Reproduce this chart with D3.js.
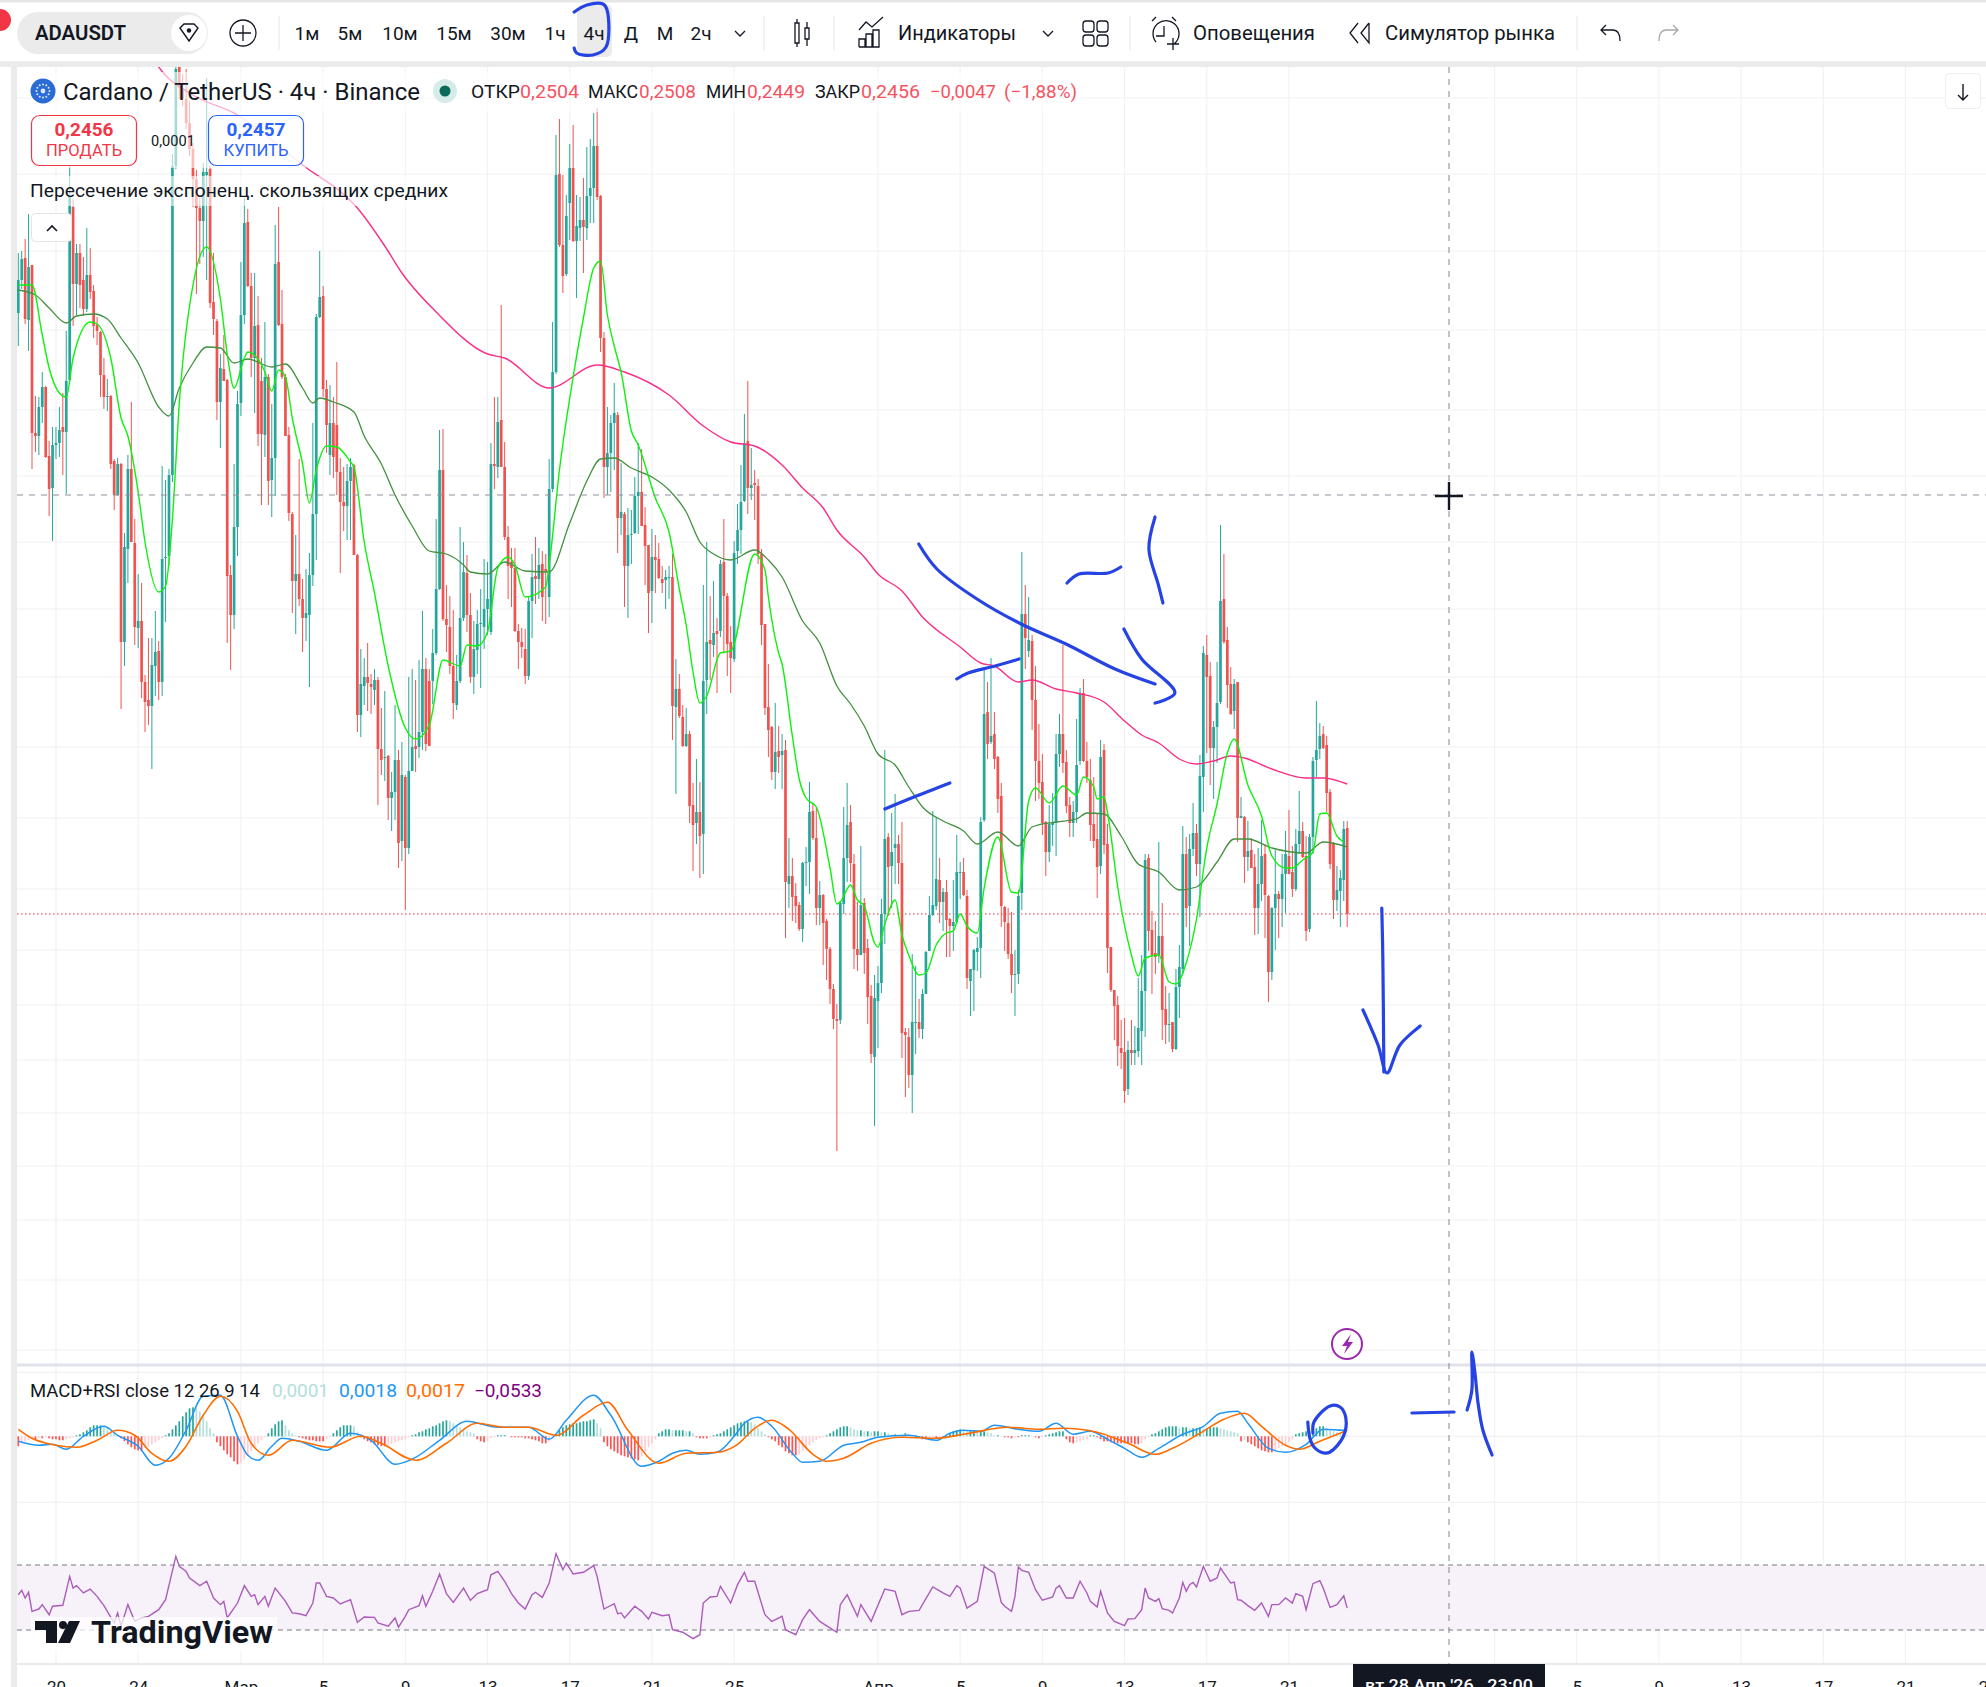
<!DOCTYPE html>
<html><head><meta charset="utf-8">
<script src="https://cdn.jsdelivr.net/npm/d3@7"></script>
<style>html,body{margin:0;padding:0;background:#fff;overflow:hidden}svg{display:block}text{font-family:Roboto,"Noto Sans",sans-serif}</style>
</head><body><svg id="c" width="1986" height="1687"></svg>
<script>
// Candles: [open, high, low, close] in points above the last close 0,2456 (1 point is about 0,0000556)
const candlesFebA=[[601,661,568,634],[634,663,625,655],[656,675,590,595],[594,700,563,647],[649,649,445,481],[481,518,462,478],[478,517,459,507],[507,542,491,527],[527,528,456,457],[458,473,398,425],[426,487,373,469],[469,487,455,471],[471,507,457,484],[487,521,439,482],[482,583,420,533],[534,748,530,719],[707,715,588,630],[630,670,599,661],[661,670,606,629],[634,657,598,605],[605,686,602,639],[639,666,615,622],[623,629,576,588],[589,597,569,583],[582,583,517,539],[539,556,505,517],[517,535,503,518],[518,519,445,450],[453,455,404,419],[419,456,418,450],[450,451,205,272],[272,381,248,367],[365,459,331,445],[445,512,372,372],[371,395,269,287],[286,340,266,293],[293,331,216,232],[232,239,182,212],[214,276,189,208],[208,276,145,249],[248,303,218,262],[263,273,214,232],[232,448,218,355],[356,434,292,357],[358,445,348,439],[439,760,432,748],[748,860,745,845],[847,860,815,826],[826,840,808,815],[815,845,785,791],[791,813,758,765],[765,771,707,735],[735,744,620,706],[706,716,650,693],[693,751,657,742],[739,836,634,742],[745,748,606,611],[612,661,579,595],[593,595,494,512],[512,560,466,546],[545,579,533,533],[534,535,271,338],[339,349,244,299],[299,450,285,387],[387,523,358,510]];
const candlesMarA=[[511,652,498,599],[599,716,590,691],[692,705,627,628],[628,641,537,556],[556,641,501,588],[589,618,468,480],[533,556,409,480],[479,592,457,537],[537,540,409,433],[434,510,397,456],[456,689,418,650],[652,707,588,589],[590,624,535,537],[537,540,478,478],[479,487,393,401],[400,402,301,333],[333,379,280,340],[340,455,308,315],[315,335,262,296],[296,345,273,301],[299,361,227,339],[339,491,328,400],[400,600,354,597],[597,663,596,617],[618,628,517,525],[525,534,461,489],[459,529,439,491],[491,517,436,457],[489,552,419,442],[442,456,341,412],[412,447,383,408],[408,450,374,433],[433,456,374,447],[449,450,359,359],[359,360,182,199],[199,265,177,230],[228,256,209,237],[237,271,203,231],[230,240,200,227],[224,245,209,234],[234,237,109,165],[165,206,139,154],[156,223,133,157],[158,159,94,116],[116,142,83,122],[122,209,94,154],[154,164,46,71],[73,172,53,139],[137,139,4,66],[66,237,60,143]];
const candlesMarB=[[143,245,143,167],[168,234,142,165],[167,254,156,182],[182,303,164,245],[245,256,163,170],[233,245,168,168],[233,285,210,261],[261,395,259,325],[325,484,324,444],[444,485,293,295],[295,329,262,289],[287,318,240,248],[248,304,195,211],[209,259,204,233],[233,387,231,296],[296,372,293,342],[341,359,282,299],[299,321,231,237],[237,293,220,265],[264,304,240,290],[290,325,226,291],[287,355,265,305],[305,352,279,315],[282,471,279,450],[450,517,425,448],[447,517,436,492],[494,609,447,447],[447,472,374,377],[377,388,315,348],[352,366,307,346],[346,366,282,283],[283,290,245,272],[272,286,256,267],[265,285,230,238],[238,317,234,313],[313,360,276,337],[338,377,310,335],[335,366,315,349],[350,363,293,317],[345,360,290,342],[317,455,297,425],[425,592,422,542],[542,779,540,739],[740,795,667,669],[669,739,621,638],[640,719,638,698],[711,770,674,746],[746,789,672,673],[673,719,616,688],[686,717,673,694],[694,736,641,687],[686,767,674,718],[718,775,691,726],[726,801,691,768],[768,806,714,717],[718,719,562,576],[576,582,416,447],[447,507,419,461],[461,499,422,491],[491,531,444,501]];
const candlesMarC=[[499,502,361,396],[396,451,379,402],[400,402,307,348],[348,406,296,379],[379,404,350,380],[381,437,380,418],[418,471,380,422],[422,465,388,388],[389,407,329,368],[369,369,281,321],[323,385,291,357],[357,379,321,354],[355,371,335,336],[335,348,321,331],[334,344,305,337],[337,348,315,337],[337,360,174,208],[207,255,120,225],[225,240,196,198],[197,209,167,168],[168,206,167,180],[180,183,91,108],[109,131,43,89],[91,155,70,102],[102,132,36,78],[80,329,40,233],[234,372,200,272],[274,318,234,270],[269,333,257,281],[283,296,221,280],[283,354,277,350],[352,395,261,318],[318,321,238,270],[272,288,221,256],[255,373,252,361],[363,410,350,384],[384,449,360,412],[413,500,412,471],[473,533,400,426],[426,466,414,429],[431,444,394,429],[428,435,350,360],[360,365,269,289],[290,290,199,206],[207,250,157,184],[187,188,134,142],[142,211,125,162],[163,188,141,157],[159,180,125,163],[164,174,-24,32],[30,76,6,38],[38,56,-7,17],[18,31,-9,8],[9,12,-17,-15],[-15,52,-28,51],[51,67,28,52],[52,132,20,102],[103,111,74,76],[76,107,-11,6],[6,33,-11,19],[19,20,-51,-9],[-7,-5,-66,-35],[-35,-33,-90,-75],[-75,-70,-115,-105],[-105,-90,-237,-107],[-106,13,-110,11],[10,107,0,56],[56,131,32,89],[92,109,32,51],[50,60,-55,-35],[-35,12,-57,-41],[-41,68,-41,9],[11,16,-60,-39]];
const candlesApr=[[-34,-25,-110,-83],[-82,-71,-149,-140],[-143,-61,-212,-84],[-87,-52,-134,-69],[-69,15,-79,0],[0,164,-30,75],[77,81,-2,47],[48,101,6,62],[66,120,30,70],[70,79,30,51],[51,92,-144,-119],[-118,-114,-183,-121],[-123,-114,-174,-161],[-161,-40,-199,-108],[-108,-52,-140,-108],[-108,-85,-124,-115],[-115,-75,-125,-80],[-80,-37,-80,-38],[-37,18,-37,-1],[-1,103,-2,9],[8,97,4,35],[34,56,-9,12],[12,26,-17,22],[22,34,-43,-6],[-5,-4,-43,-12],[-12,34,-37,-8],[-8,79,-10,42],[41,52,15,42],[42,56,18,19],[18,24,-75,-64],[-67,-55,-102,-55],[-56,-35,-97,-36],[-38,-23,-57,-34],[-34,97,-64,92],[94,244,92,200],[202,232,155,170],[172,256,170,178],[180,202,145,155],[157,158,101,115],[118,131,-13,8],[7,8,-37,-8],[-9,6,-45,-40],[-40,2,-79,-61],[-60,-36,-102,-60],[-60,24,-70,18],[21,362,4,300],[300,329,245,276],[263,317,257,274],[273,279,184,214],[214,248,113,153],[153,190,115,131],[132,160,79,91],[92,93,38,62],[62,109,52,90],[89,121,68,92],[91,180,58,160],[160,200,147,180],[180,269,141,151],[152,164,101,108],[109,117,77,91],[91,113,77,102],[102,195,91,149],[153,226,149,220],[221,235,152,153],[153,172,131,137],[134,155,73,89],[90,137,66,73],[75,101,16,47],[48,174,40,157],[164,170,60,69]];
const candlesAprB=[[70,90,-59,-34],[-33,-33,-78,-76],[-76,-76,-126,-92],[-91,-82,-152,-132],[-134,-106,-155,-139],[-138,-104,-189,-177],[-175,-127,-181,-136],[-136,-106,-151,-139],[-139,-112,-151,-136],[-137,-64,-143,-114],[-117,-41,-151,-77],[-77,60,-123,54],[56,60,-37,-17],[-16,3,-80,-41],[-39,-7,-60,-43],[-41,72,-49,-22],[-22,11,-126,-96],[-95,-72,-130,-111],[-111,-79,-128,-110],[-108,-108,-138,-135],[-135,-55,-136,-73],[-73,-31,-104,-53],[-55,88,-60,60],[60,77,-13,6],[8,80,-32,65],[65,111,58,81],[81,90,38,50],[50,159,-3,138],[137,268,102,261],[259,279,161,237],[238,252,129,166],[166,193,115,187],[187,252,151,211],[212,389,210,313],[315,360,270,272],[274,287,206,229],[230,247,199,200],[203,235,185,230],[232,232,72,96],[96,117,96,98],[97,98,31,57],[57,93,43,63],[64,76,46,46],[47,60,-21,6],[6,66,-20,30],[30,94,13,58],[60,70,-24,19],[18,19,-88,-58],[-58,7,-66,6],[6,64,-36,20],[20,23,-24,15],[15,60,-13,40],[40,83,1,60],[58,104,40,40],[42,68,17,25],[25,85,23,70],[70,123,60,83],[83,92,56,57],[58,78,-27,-17],[-15,80,-18,77],[77,157,60,153],[154,213,137,164],[165,191,155,178],[180,188,165,166],[169,178,102,121],[122,125,45,50],[71,72,-5,14],[14,48,3,24],[23,44,-13,36],[34,93,13,85],[86,93,-13,0]];
const candles=[...candlesFebA,...candlesMarA,...candlesMarB,...candlesMarC,...candlesApr,...candlesAprB];

// Moving averages, read at the listed candle numbers
const pinkIdx=[38,41,50,64,83,99,107,112,122,137,142,155,169,177,190,200,208,215,223,229,235,239,247,251,258,264,275,281,285,292,296,303,309,317,323,328,333,339,344,349,354,358,366,376,381,388];
const pinkVal=[864,847,821,799,749,706,668,641,602,560,556,526,549,542,519,488,472,468,449,426,406,384,357,340,323,297,267,251,248,232,234,225,221,212,193,179,171,155,150,153,158,156,145,136,136,130];
const ema50Idx=[0,5,9,14,17,22,26,30,35,41,44,47,51,55,59,63,67,74,78,83,86,88,92,98,101,106,110,115,120,125,130,132,137,142,148,155,161,166,170,174,179,185,190,195,199,203,208,215,219,223,229,234,239,243,247,251,256,260,264,270,276,280,286,292,296,303,309,312,317,322,327,333,339,344,350,355,359,366,376,381,388];
const ema50Val=[624,619,606,591,598,600,595,576,551,507,498,526,551,567,566,551,555,547,550,526,511,516,512,502,478,450,419,388,363,360,349,342,340,352,343,342,391,433,455,456,446,437,424,402,372,360,354,364,354,337,293,271,228,210,188,160,149,127,107,93,83,70,82,68,87,92,95,101,100,78,50,42,24,27,52,75,75,66,61,72,67];
const ema20Idx=[0,4,7,9,12,14,16,21,23,27,30,32,35,37,41,43,45,47,51,55,59,61,63,66,67,72,74,76,78,80,83,85,87,90,93,97,98,101,104,108,113,116,120,124,129,131,134,137,140,143,145,148,154,155,158,162,165,168,170,172,174,176,179,181,186,190,193,195,197,199,201,205,208,215,218,219,222,223,226,228,230,233,237,239,240,243,245,247,250,251,253,256,258,260,263,265,268,271,273,275,277,280,282,286,290,292,295,297,301,305,309,311,314,315,317,318,321,325,327,329,333,336,338,341,344,347,350,353,355,359,363,366,370,372,375,378,380,382,385,387];
const ema20Val=[629,629,579,546,521,517,556,592,590,556,496,478,422,372,322,328,395,510,629,667,615,560,526,556,562,542,523,544,537,496,450,411,444,468,467,452,447,372,321,248,186,175,189,254,248,269,268,282,346,357,349,317,327,349,444,537,596,646,653,599,568,542,483,469,416,382,325,289,242,211,218,261,263,360,344,317,261,250,178,135,116,107,46,10,12,29,14,8,-29,-33,-10,14,-21,-41,-61,-59,-31,-19,-17,0,-12,-19,26,77,22,21,113,126,111,128,119,137,127,115,117,102,27,-41,-62,-44,-41,-68,-70,-49,-5,66,110,161,175,129,98,58,46,46,54,62,100,101,78,72];

// MACD panel values, in points around zero (1 point is about 0,00027)
const histFeb=[-10,-7,-5,-4,-3,-3,-2,-2,-1,-2,-3,-3,-4,-4,-3,-2,-1,1,2,4,6,9,11,11,11,10,9,6,4,1,-2,-5,-8,-11,-13,-14,-15,-12,-10,-8,-6,-4,-2,1,3,7,11,15,20,24,28,29,28,25,20,15,8,3];
const histMarA=[-6,-10,-14,-18,-21,-25,-28,-27,-23,-19,-15,-11,-7,-4,-1,3,8,12,15,16,11,6,3,1,-1,-2,-3,-4,-4,-5,-5,-5,-3,-1,3,6,9,11,11,11,10,4,-1,-3,-5,-6,-8,-9,-10,-10,-9,-8,-6,-5,-4,-3,-1];
const histMarB=[1,2,4,5,7,8,10,11,13,15,16,15,13,11,9,7,5,4,3,-3,-5,-6,-5,-2,-1,1,1,1,0,-1,-1,-1,-1,-2,-2,-3,-4,-5,-7,-7,-5,-1,2,6,9,11,12,13,13,14,15,15,16,17,13,8,-6,-10,-13,-15,-17,-19,-20,-21,-22,-23,-24,-20,-16,-11,-7,-3];
const histMarC=[3,5,7,7,6,6,6,6,5,5,3,-1,-2,-2,-2,-1,1,2,3,5,7,9,11,13,14,15,15,14,12,8,5,2,-1,-3,-5,-9,-11,-15,-17,-19,-19,-18,-15,-12,-9,-6,-4,-2,-1];
const histApr=[1,3,5,7,9,10,10,9,7,6,6,5,5,4,5,5,4,4,3,2,2,1,1,3,2,1,1,-1,-3,-3,-2,-1,-2,-1,-1,1,3,5,6,7,6,5,6,6,5,5,5,4,3,1,1,0,-1,-1,-2,-1,-1,1,1,1,0,-1,-2,-1,1,2,3,4,5,5,-3,-6,-7,-6,-5,-4,-3,1,1,-1,-3,-5];
const histAprB=[-5,-6,-7,-7,-7,-7,-7,-7,-8,-8,-7,-3,-1,2,3,5,7,9,10,10,10,9,9,9,8,8,8,9,8,8,9,9,9,8,7,6,5,4,3,-5,-4,-6,-8,-10,-12,-14,-15,-16,-16,-15,-12,-10,-8,-6,-3,2,3,4,5,5,6,8,10,10,8,6,5,4,3,2,1];
const hist=[...histFeb,...histMarA,...histMarB,...histMarC,...histApr,...histAprB];
const macdIdx=[0,6,10,14,19,25,29,35,40,44,49,54,59,64,67,70,74,77,82,90,97,103,110,116,123,131,140,149,155,160,168,173,182,187,191,195,199,204,209,212,216,220,226,229,234,241,246,251,260,268,272,276,281,285,292,298,303,308,313,318,323,328,333,340,346,351,356,359,365,370,376,381,387,388];
const macdVal=[-5,-9,-8,-13,0,10,1,-10,-29,-22,6,40,41,0,-19,-24,-10,-2,-5,-14,3,-4,-28,-21,-4,15,9,9,-3,16,41,21,-30,-25,-17,-14,-18,-16,0,13,19,10,-17,-26,-25,-9,-6,-1,1,-4,3,6,5,11,7,5,13,2,5,-3,-12,-21,-12,2,10,23,25,13,-12,-16,-8,7,6,6];
const signalIdx=[0,4,11,17,23,29,34,39,44,49,54,59,64,68,73,80,91,100,106,116,125,134,142,149,157,165,172,178,187,195,204,210,215,220,225,232,236,241,249,258,268,276,289,298,305,315,324,332,337,345,352,358,363,370,374,380,388];
const signalVal=[7,-2,-9,-11,-4,6,1,-17,-25,-10,21,40,25,-7,-19,-4,-11,0,-7,-24,-7,13,9,9,1,21,34,6,-27,-17,-16,-8,8,16,7,-18,-25,-22,-7,-1,-2,2,9,7,8,4,-7,-18,-12,3,17,23,10,-9,-13,-5,6];

// RSI, read at the listed candle numbers
const rsiIdxA=[0,1,2,3,4,6,7,9,10,13,15,16,17,19,21,23,25,28,29,30,32,34,36,38,41,43,46,47,49,50,53,55,57,59,60,61,64,66,68,69,70,72,73,75,78,80,82,84,86,87,88,90,92,94,97,99,101,104,105,108,110,111,113,114,117,118,119,121,123,125,127,130,132,134,137,138,140,142,144,146,148,150,151,153,155,157,159,160,162,165,168,169,171,174,175,176,177,180,182,184,185,188,190,191,194,197,199];
const rsiValA=[51.7,54.4,49.7,53.2,41.5,42.9,45.6,39.4,44.6,45.2,63,55.8,57.3,52.8,55.2,50.7,45,34.3,40.5,32.3,45.6,35.3,37.4,38.4,42.5,48.7,75.3,69.2,66,62,57.3,60,49.7,45.6,47.6,37.4,46.6,57.3,50.7,51.7,45.6,50.7,44.6,55.8,47.6,40.5,40,38.8,46.6,58.9,58.9,50.7,49.7,46,48.7,34.7,38,37.8,34.3,32.3,37.4,31.8,38.4,42.5,45,51.1,44.6,53.8,64.5,52.4,47,55.8,48.2,52.4,54.8,64,66.1,60,52.4,46.6,42.9,51.7,53.2,50.1,58.9,77,67.1,71.2,64.5,65.5,69.6,63,42.9,46.2,40,40.5,37.4,44.6,41.5,36.8,40.9,38.8,39.4,30.2,28.6,24.7,27.1];
const rsiIdxB=[200,202,204,205,208,210,212,213,215,218,220,223,224,227,229,231,234,239,240,242,245,246,249,253,256,258,260,263,267,270,272,274,275,277,280,282,285,287,288,290,291,292,293,295,297,299,302,303,304,306,308,310,312,313,315,316,318,320,323,324,326,328,329,330,332,333,334,336,337,339,340,341,342,343,344,346,348,350,351,354,355,356,357,359,361,363,365,366,368,370,372,373,375,376,378,380,381,383,385,387,388];
const rsiValB=[46.6,50.3,50.7,56.9,46.6,57.9,65.5,60,60,39.4,35.3,38.4,30.2,27.1,36.4,42.5,35.3,28.6,45.6,51.7,38.4,45.6,35.3,55.2,53.8,39.4,41.5,42.1,56.5,52.8,50.7,57.3,55.8,43.5,47.6,69.2,65,47,44.6,41.5,50.7,68.8,66.7,65.5,54.8,48.3,50.3,55.8,57.3,49.7,49.7,60,52.8,47.6,44.2,53.8,40.5,35.3,32.7,36.8,37,42.5,55.8,49.7,47.6,49.3,43.1,42.1,40.5,49.7,59.3,53.8,57.9,59.3,56.5,69.2,60,62,68.1,58.9,59.5,48.7,48.3,45,42.1,46.6,38.4,45.6,45.6,49.7,46.6,52.4,50.7,42.5,58.5,60.4,55.8,43.9,45.6,51.1,43.5];

// Date axis
const tickIdx=[11,35,65,89,113,137,161,185,209,251,275,299,323,347,371,455,479,503,527,551,575];
const tickLabels=["20","24","Мар","5","9","13","17","21","25","Апр","5","9","13","17","21","5","9","13","17","21","25"];
// Price grid levels, in the same points as the candles
const gridLevels=[816,740,663,584,504,438,372,305,237,167,96,25,-36,-91,-146,-199,-252,-306,-366,-436];

// Hand-drawn annotations as [candle number, points]
const strokeFrame=[[162.3,902],[166,909],[170.7,910],[171.9,904],[171.6,867],[167.8,859],[163,861],[162.3,866]];
const strokeLong=[[262.9,370],[268.2,345],[279.9,315],[292.8,290],[305.9,270],[320.2,245],[331.9,230]];
const strokeHead=[[322.8,285],[328,255],[337.7,221],[331.9,211]];
const strokeMid=[[274,235],[277.3,241],[285.2,248],[292.2,255]];
const strokeLow=[[253,105],[261.5,117],[272,131]];
const strokeDash=[[306.2,331],[309.7,340],[318.2,341],[321.9,347]];
const strokeBar=[[331.9,397],[330.1,365],[332.8,330],[334.2,311]];
const strokeDown=[[398.1,6],[398.4,-43],[398.7,-158]];
const strokeDownHead=[[392.6,-96],[397,-131],[399.6,-159],[403.4,-131],[409.3,-112]];
const strokeCircle=[[376.5,-508],[377.1,-524],[378.3,-533],[381.2,-539],[383,-538],[386.8,-523],[387.6,-504],[385.9,-493],[383,-492],[378.3,-508],[378,-519]];
const strokeMinus=[[406.9,-499],[419.2,-498]];
const strokeOne=[[423,-496],[424.4,-476],[424.4,-438],[425.3,-459],[426.2,-489],[427.6,-516],[430.3,-541]];
const annotations=[strokeFrame,strokeLong,strokeHead,strokeMid,strokeLow,strokeDash,strokeBar,strokeDown,strokeDownHead,strokeCircle,strokeMinus,strokeOne];

const svg=d3.select("#c");
const W=1986,H=1687,PL=17,PT=67,PB=1365,AX=1664;
const x=d3.scaleLinear().domain([0,388]).range([18.3,18.3+388*3.425]);
const y=d3.scaleLinear().domain([0,914]).range([914,0]);
const ym=d3.scaleLinear().domain([-100,100]).range([1536.3,1336.3]);
const yr=d3.scaleLinear().domain([30,70]).range([1630,1565]);
const UP="#26a69a",DN="#ef5350";

// frame
svg.append("rect").attr("width",W).attr("height",H).attr("fill","#fff");
svg.append("rect").attr("x",0).attr("y",0).attr("width",W).attr("height",2.5).attr("fill","#e6e6e6");
svg.append("rect").attr("x",0).attr("y",61).attr("width",W).attr("height",6).attr("fill","#ebebeb");
svg.append("rect").attr("x",11).attr("y",61).attr("width",6).attr("height",H-61).attr("fill","#ebebeb");

// grid
const gridG=svg.append("g").attr("stroke","#f1f2f5").attr("stroke-width",1.2);
gridG.selectAll("line.h").data(gridLevels).join("line").attr("x1",PL).attr("x2",W).attr("y1",d=>y(d)).attr("y2",d=>y(d));
const allTicks=[...tickIdx,431];
gridG.selectAll("line.v").data(allTicks).join("line").attr("x1",d=>x(d)).attr("x2",d=>x(d)).attr("y1",PT).attr("y2",AX);
[64,0,-66].forEach(v=>{ gridG.append("line").attr("x1",PL).attr("x2",W).attr("y1",ym(v)).attr("y2",ym(v)); });

// main panel
svg.append("defs").append("clipPath").attr("id","mainClip").append("rect").attr("x",PL).attr("y",PT).attr("width",W-PL).attr("height",PB-PT);
const main=svg.append("g").attr("clip-path","url(#mainClip)");
main.append("line").attr("x1",PL).attr("x2",W).attr("y1",y(0)).attr("y2",y(0)).attr("stroke","#f23645").attr("stroke-width",1.2).attr("stroke-dasharray","1.5 2.5");
const colr=d=>d[3]>=d[0]?UP:DN;
main.append("g").selectAll("line").data(candles).join("line")
  .attr("x1",(d,i)=>x(i)).attr("x2",(d,i)=>x(i)).attr("y1",d=>y(d[1])).attr("y2",d=>y(d[2]))
  .attr("stroke",colr).attr("stroke-width",1);
main.append("g").selectAll("rect").data(candles).join("rect")
  .attr("x",(d,i)=>x(i)-1.35).attr("width",2.7)
  .attr("y",d=>y(Math.max(d[0],d[3]))).attr("height",d=>Math.max(1,Math.abs(y(d[0])-y(d[3]))))
  .attr("fill",colr);
const lineOf=(idx,val,sy,curve)=>d3.line().curve(curve||d3.curveLinear).x((d,i)=>x(idx[i])).y((d,i)=>sy(val[i]))(val);
main.append("path").attr("d",lineOf(pinkIdx,pinkVal,y,d3.curveMonotoneX)).attr("fill","none").attr("stroke","#fa2e88").attr("stroke-width",1.4);
main.append("path").attr("d",lineOf(ema50Idx,ema50Val,y,d3.curveMonotoneX)).attr("fill","none").attr("stroke","#43903f").attr("stroke-width",1.3);
main.append("path").attr("d",lineOf(ema20Idx,ema20Val,y,d3.curveMonotoneX)).attr("fill","none").attr("stroke","#0df20d").attr("stroke-width",1.4);

// separators and oscillator panel
svg.append("rect").attr("x",PL).attr("y",PB-1.5).attr("width",W-PL).attr("height",3).attr("fill","#e0e3eb");
const histColor=(d,i)=>{const p=i?hist[i-1]:d;return d>=0?(d>=p?UP:"#b2dfdb"):(d<=p?"#ff5252":"#ffcdd2");};
svg.append("g").selectAll("rect").data(hist).join("rect")
  .attr("x",(d,i)=>x(i)-.85).attr("width",1.7)
  .attr("y",d=>ym(Math.max(d,0))).attr("height",d=>Math.abs(ym(d)-ym(0)))
  .attr("fill",histColor);
svg.append("path").attr("d",lineOf(macdIdx,macdVal,ym,d3.curveMonotoneX)).attr("fill","none").attr("stroke","#2196f3").attr("stroke-width",1.5);
svg.append("path").attr("d",lineOf(signalIdx,signalVal,ym,d3.curveMonotoneX)).attr("fill","none").attr("stroke","#ff6d00").attr("stroke-width",1.6);

svg.append("rect").attr("x",PL).attr("y",yr(70)).attr("width",W-PL).attr("height",yr(30)-yr(70)).attr("fill","#f7f1f9");
[70,30].forEach(v=>svg.append("line").attr("x1",PL).attr("x2",W).attr("y1",yr(v)).attr("y2",yr(v)).attr("stroke","#787b86").attr("stroke-width",1.2).attr("stroke-dasharray","5 4"));
svg.append("path").attr("d",lineOf([...rsiIdxA,...rsiIdxB],[...rsiValA,...rsiValB],yr)).attr("fill","none").attr("stroke","#ab5cba").attr("stroke-width",1.4);

// bottom axis
svg.append("line").attr("x1",PL).attr("x2",W).attr("y1",AX).attr("y2",AX).attr("stroke","#e0e3eb").attr("stroke-width",1.6);
const axis=d3.axisBottom(x).tickValues(tickIdx).tickSize(0).tickPadding(0).tickFormat((d,i)=>tickLabels[i]);
const axG=svg.append("g").attr("transform",`translate(0,${AX+12})`).call(axis);
axG.select(".domain").remove();
axG.selectAll("text").attr("font-size",17).attr("fill","#131722").attr("font-family","Roboto").attr("dy","1em");

// crosshair
svg.append("line").attr("x1",1449).attr("x2",1449).attr("y1",PT).attr("y2",AX).attr("stroke","#8f929b").attr("stroke-width",1.1).attr("stroke-dasharray","6 6");
svg.append("line").attr("x1",PL).attr("x2",W).attr("y1",495).attr("y2",495).attr("stroke","#8f929b").attr("stroke-width",1.1).attr("stroke-dasharray","6 6");
svg.append("path").attr("d","M1449 482V510M1435 496H1463").attr("stroke","#131722").attr("stroke-width",2.4).attr("fill","none");
svg.append("rect").attr("x",1353).attr("y",AX).attr("width",192).attr("height",H-AX).attr("fill","#131722");
svg.append("text").attr("x",1449).attr("y",1691).attr("text-anchor","middle").attr("font-size",16.5).attr("fill","#fff").attr("textLength",168).attr("lengthAdjust","spacingAndGlyphs").attr("font-weight",500).attr("xml:space","preserve").text("вт 28 Апр '26   23:00");

// legend veils
[[31,72,1050,40],[31,112,275,56],[31,176,420,30]].forEach(r=>svg.append("rect").attr("x",r[0]).attr("y",r[1]).attr("width",r[2]).attr("height",r[3]).attr("fill","#fff").attr("opacity",.6));

const T=(s,xx,yy,fs,fill,len,extra)=>{const t=svg.append("text").attr("x",xx).attr("y",yy).attr("font-size",fs).attr("fill",fill||"#131722").text(s);
  if(len)t.attr("textLength",len).attr("lengthAdjust","spacingAndGlyphs"); if(extra)Object.entries(extra).forEach(([k,v])=>t.attr(k,v)); return t;};

// legend line
svg.append("circle").attr("cx",43).attr("cy",91).attr("r",12.5).attr("fill","#2b6bd6");
for(let a=0;a<12;a++){svg.append("circle").attr("cx",43+6.5*Math.cos(a*Math.PI/6)).attr("cy",91+6.5*Math.sin(a*Math.PI/6)).attr("r",1).attr("fill","#dbe8ff");}
svg.append("circle").attr("cx",43).attr("cy",91).attr("r",2.4).attr("fill","#dbe8ff");
T("Cardano / TetherUS · 4ч · Binance",63,100,23,"#131722",357);
svg.append("circle").attr("cx",445).attr("cy",91).attr("r",12).attr("fill","#d6ece8");
svg.append("circle").attr("cx",445).attr("cy",91).attr("r",5.5).attr("fill","#0b6b5a");
const RED="#f7525f";
[["ОТКР",471,49,"#131722"],["0,2504",520,59,RED],["МАКС",588,50,"#131722"],["0,2508",639,57,RED],["МИН",706,40,"#131722"],["0,2449",747,58,RED],["ЗАКР",815,45,"#131722"],["0,2456",861,59,RED],["−0,0047",930,66,RED],["(−1,88%)",1004,73,RED]]
 .forEach(d=>T(d[0],d[1],98,18.5,d[3],d[2]));

// sell / buy boxes
svg.append("rect").attr("x",31.5).attr("y",115.5).attr("width",105).attr("height",50).attr("rx",8).attr("fill","#fff").attr("fill-opacity",.75).attr("stroke","#f23645").attr("stroke-width",1.2);
svg.append("rect").attr("x",208.5).attr("y",115.5).attr("width",95).attr("height",50).attr("rx",8).attr("fill","#fff").attr("fill-opacity",.75).attr("stroke","#2962ff").attr("stroke-width",1.2);
T("0,2456",84,136,18,"#f23645",59,{"text-anchor":"middle","font-weight":700});
T("ПРОДАТЬ",84,156,16,"#f23645",76,{"text-anchor":"middle"});
T("0,2457",256,136,18,"#2962ff",59,{"text-anchor":"middle","font-weight":700});
T("КУПИТЬ",256,156,16,"#2962ff",65,{"text-anchor":"middle"});
T("0,0001",151,146,14,"#131722",44);
T("Пересечение экспоненц. скользящих средних",30,197,18,"#131722",418);
svg.append("rect").attr("x",31.5).attr("y",213.5).attr("width",40).attr("height",28).attr("rx",4).attr("fill","#fff").attr("stroke","#e4e4e4");
svg.append("path").attr("d","M47 231L52 226L57 231").attr("fill","none").attr("stroke","#131722").attr("stroke-width",1.6);
svg.append("rect").attr("x",1945.5).attr("y",73.5).attr("width",35).attr("height",35).attr("rx",4).attr("fill","#fff").attr("stroke","#eeeeee");
svg.append("path").attr("d","M1963 84V100M1958 95L1963 100L1968 95").attr("fill","none").attr("stroke","#131722").attr("stroke-width",1.4);

// toolbar
svg.append("rect").attr("x",17).attr("y",12).attr("width",191).attr("height",42).attr("rx",21).attr("fill","#ebebeb");
svg.append("circle").attr("cx",189).attr("cy",33).attr("r",18).attr("fill","#fff");
svg.append("path").attr("d","M180 28L184 24H194L198 28L189 41Z").attr("fill","#fff").attr("stroke","#131722").attr("stroke-width",1.4);
svg.append("circle").attr("cx",189).attr("cy",30.5).attr("r",2.2).attr("fill","#131722");
T("ADAUSDT",35,40,20,"#131722",91,{"font-weight":600});
svg.append("circle").attr("cx",0).attr("cy",20).attr("r",11).attr("fill","#f23645");
svg.append("circle").attr("cx",243).attr("cy",33).attr("r",13).attr("fill","#fff").attr("stroke","#131722").attr("stroke-width",1.3);
svg.append("path").attr("d","M243 25V41M235 33H251").attr("stroke","#131722").attr("stroke-width",1.3);
svg.append("rect").attr("x",577).attr("y",5).attr("width",35).attr("height",52).attr("rx",5).attr("fill","#ebebeb");
[["1м",307],["5м",350],["10м",400],["15м",454],["30м",508],["1ч",555],["4ч",594],["Д",631],["М",665],["2ч",701]]
 .forEach(d=>T(d[0],d[1],40,19,"#131722",null,{"text-anchor":"middle"}));
[279,764,834,1130,1577].forEach(v=>svg.append("line").attr("x1",v).attr("x2",v).attr("y1",16).attr("y2",50).attr("stroke","#e6e6e6"));
const P=(d,c,w)=>svg.append("path").attr("d",d).attr("fill","none").attr("stroke",c||"#131722").attr("stroke-width",w||1.3);
P("M735 31L740 36L745 31");P("M1043 31L1048 36L1053 31");
P("M795 23H799V43H795ZM797 19V23M797 43V47M805 28H809V39H805ZM807 22V28M807 39V46");
P("M859 47V39H865V47M866 47V34H872V47M873 47V30H879V47H859M859 30L866 22L872 27L883 17");
T("Индикаторы",898,40,19.5,"#131722",118);
[[1083,21],[1097,21],[1083,35],[1097,35]].forEach(r=>svg.append("rect").attr("x",r[0]).attr("y",r[1]).attr("width",11).attr("height",11).attr("rx",3).attr("fill","none").attr("stroke","#131722").attr("stroke-width",1.3));
P("M1174 44A13 13 0 1 0 1156 42M1164 26V36H1156M1152 21L1156 17M1176 21L1172 17M1173 38V50M1167 44H1179");
T("Оповещения",1193,40,19.5,"#131722",122);
P("M1358 23L1350 33L1358 43M1369 23L1361 33L1369 43L1369 23");
T("Симулятор рынка",1385,40,19.5,"#131722",170);
P("M1606 25L1601 30L1606 35M1601 30H1613Q1620 30 1620 41");
P("M1673 25L1678 30L1673 35M1678 30H1666Q1659 30 1659 41","#a8a8a8");

// MACD legend
T("MACD+RSI close 12 26 9 14",30,1397,18,"#131722",230);
[["0,0001",272,57,"#b2dfdb"],["0,0018",339,58,"#2196f3"],["0,0017",406,59,"#ff6d00"],["−0,0533",474,68,"#800080"]].forEach(d=>T(d[0],d[1],1397,18,d[3],d[2]));

// lightning badge
svg.append("ellipse").attr("cx",1347).attr("cy",1344).attr("rx",15).attr("ry",15).attr("fill","#fff").attr("stroke","#9c27b0").attr("stroke-width",2);
svg.append("path").attr("d","M1351 1334L1342 1346H1347L1344 1354L1353 1342H1348Z").attr("fill","#9c27b0");

// TradingView watermark
svg.append("rect").attr("x",31).attr("y",1617).attr("width",246).attr("height",36).attr("fill","#fff").attr("opacity",.72);
svg.append("path").attr("d","M35 1621H57V1643H46V1630H35ZM69 1621H80L70 1643H58Z").attr("fill","#131722");
svg.append("circle").attr("cx",63).attr("cy",1625).attr("r",4).attr("fill","#131722");
T("TradingView",91,1643,31,"#131722",182,{"font-weight":700});

// annotations
const strokeLine=d3.line().x(d=>x(d[0])).y(d=>y(d[1])).curve(d3.curveCatmullRom);
svg.append("g").selectAll("path").data(annotations).join("path").attr("d",d=>strokeLine(d))
  .attr("fill","none").attr("stroke","#2643e3").attr("stroke-width",3.2).attr("stroke-linecap","round").attr("stroke-linejoin","round");
</script></body></html>
